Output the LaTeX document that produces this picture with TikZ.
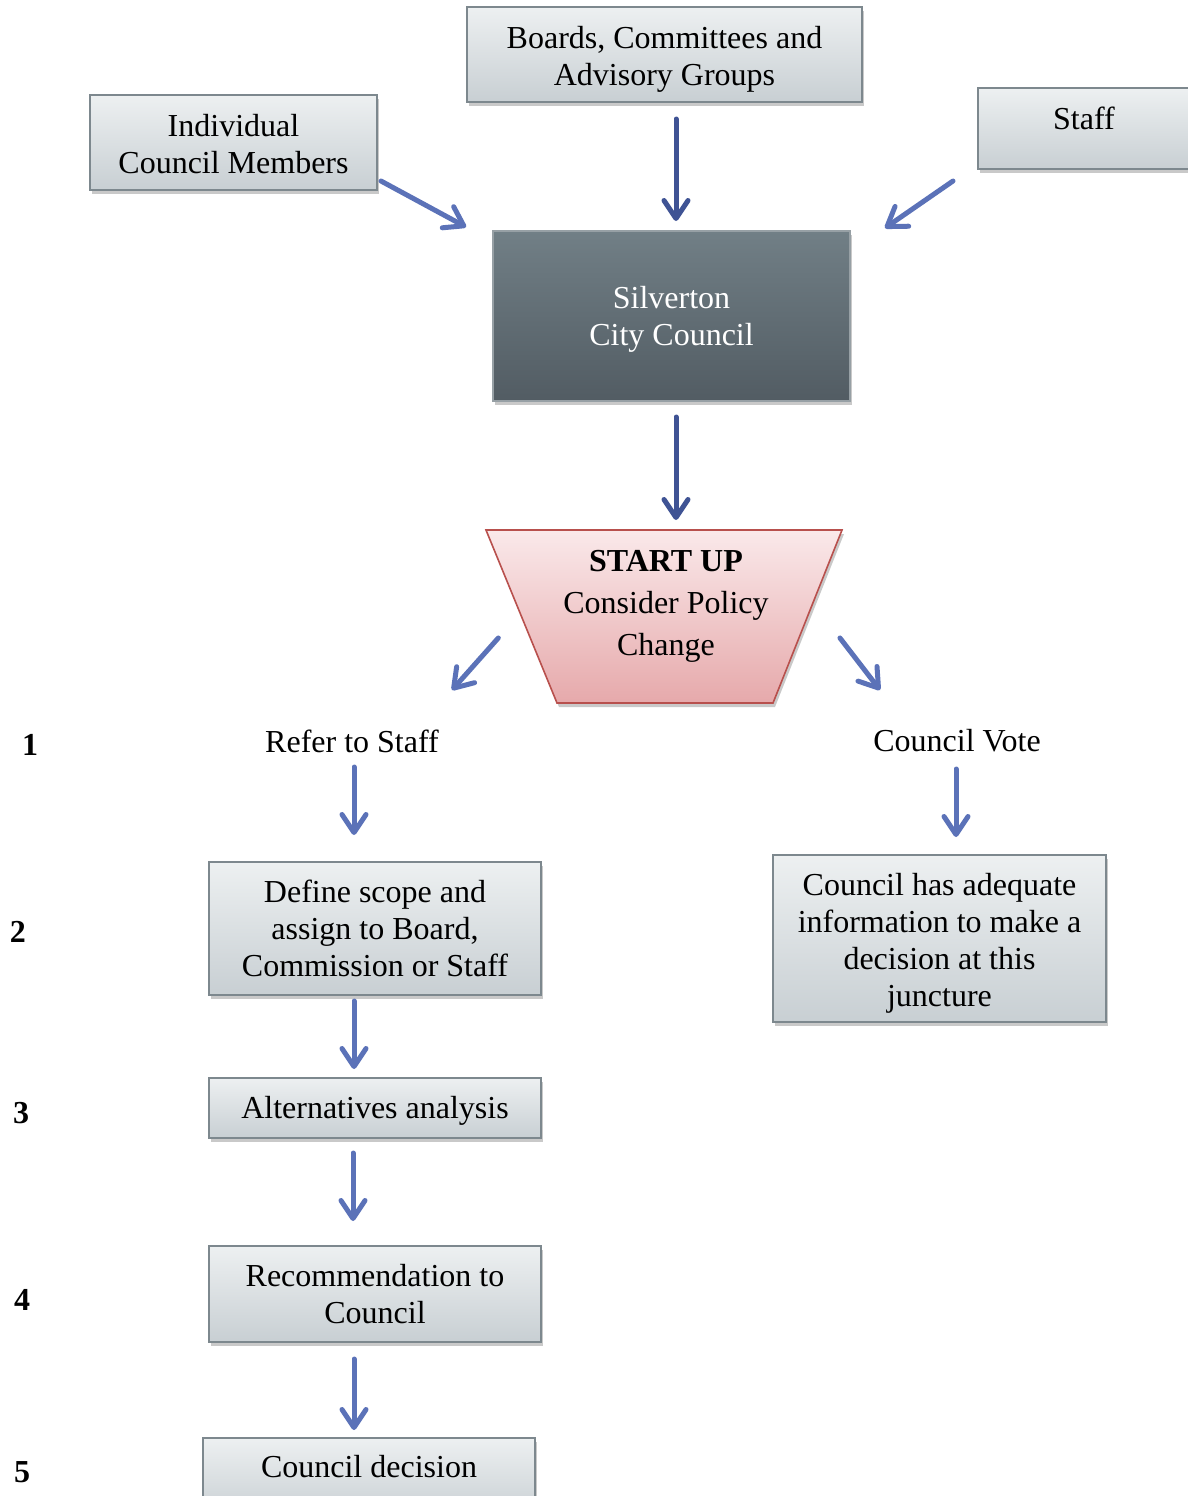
\documentclass[tikz,border=0pt]{standalone}
\usepackage{fontspec}
\setmainfont{Liberation Serif}
\usetikzlibrary{arrows.meta,shadows,calc}
\definecolor{boxtop}{HTML}{EDF0F1}
\definecolor{boxbot}{HTML}{C8CFD3}
\definecolor{boxline}{HTML}{7D888E}
\definecolor{darktop}{HTML}{717F86}
\definecolor{darkbot}{HTML}{525C63}
\definecolor{pinktop}{HTML}{FAE9EA}
\definecolor{pinkbot}{HTML}{E6A9AB}
\definecolor{pinkline}{HTML}{B8504D}
\definecolor{arrdark}{HTML}{3F5394}
\definecolor{arrlight}{HTML}{5B72B8}
\newcommand\lift[1]{\rule{0pt}{#1}}
\begin{document}
\begin{tikzpicture}[x=0.5pt,y=-0.5pt,
  txt/.style={font=\fontsize{16}{18.5}\selectfont, align=center, inner sep=0pt},
  box/.style={txt, draw=boxline, line width=1pt, top color=boxtop, bottom color=boxbot,
    drop shadow={shadow xshift=1pt,shadow yshift=-2pt,opacity=0.3,fill=black!70}},
  darkbox/.style={txt, draw=boxline!80, line width=1pt, top color=darktop, bottom color=darkbot, text=white,
    drop shadow={shadow xshift=1pt,shadow yshift=-2pt,opacity=0.3,fill=black!70}},
  arr/.style={line width=2.5pt, line cap=round, draw=arrlight, -{Straight Barb[length=9pt,width=12pt,round]}},
  darr/.style={arr, draw=arrdark},
  num/.style={font=\fontsize{16}{18}\selectfont\bfseries, inner sep=0pt}
]
\useasboundingbox (0,0) rectangle (1188,1496);

% top boxes
\node[box, minimum width=197.5pt, minimum height=47.5pt] (boards) at (664.5,54.5) {\lift{16pt}Boards, Committees and\\Advisory Groups};
\node[box, minimum width=143.5pt, minimum height=47.5pt] (icm) at (233.5,142.5) {\lift{13pt}Individual\\Council Members};
\node[box, minimum width=115pt, minimum height=40.5pt, anchor=north west] (staff) at (977,87) {};
\node[txt] (stafft) at (1084,118) {Staff};

% council
\node[darkbox, minimum width=178.5pt, minimum height=85pt] (council) at (671.5,316) {\lift{14pt}Silverton\\City Council};

% start up trapezoid
\coordinate (tl) at (486,530);
\coordinate (tr) at (842,530);
\coordinate (br) at (773,703);
\coordinate (bl) at (557,703);
\shade[top color=pinktop, bottom color=pinkbot, draw=pinkline, line width=0.8pt,
  drop shadow={shadow xshift=1pt,shadow yshift=-2pt,opacity=0.3,fill=black!70}]
  (tl) -- (tr) -- (br) -- (bl) -- cycle;
\node[txt, font=\fontsize{16}{21}\selectfont] (startup) at (666,602) {\lift{15pt}\textbf{START UP}\\Consider Policy\\Change};

% branch labels
\node[txt] (refer) at (352,741) {Refer to Staff};
\node[txt] (vote) at (957,741) {Council Vote};

% left column
\node[box, minimum width=166pt, minimum height=66.5pt] (define) at (375,928.5) {\lift{11.5pt}Define scope and\\assign to Board,\\Commission or Staff};
\node[box, minimum width=166pt, minimum height=30pt] (alt) at (375,1108) {\lift{14pt}Alternatives analysis};
\node[box, minimum width=166pt, minimum height=48pt] (rec) at (375,1294) {\lift{11.5pt}Recommendation to\\Council};
\node[box, minimum width=166pt, minimum height=40pt, anchor=north] (dec) at (369,1437) {};
\node[txt] (dect) at (369,1467) {Council decision};

% right column
\node[box, minimum width=166.5pt, minimum height=83.5pt] (adequate) at (939.5,938.5) {\lift{16pt}Council has adequate\\information to make a\\decision at this\\juncture};

% step numbers
\node[num] (n1) at (30,745) {1};
\node[num] (n2) at (18,932) {2};
\node[num] (n3) at (21,1113) {3};
\node[num] (n4) at (22,1300) {4};
\node[num] (n5) at (22,1472) {5};

% connectors
\draw[darr] ([xshift=5.75pt,yshift=-8pt]boards.south) -- ([xshift=2.25pt,yshift=4.5pt]council.north);
\draw[arr] ([xshift=1.5pt,yshift=5pt]icm.south east) -- ([xshift=-13pt,yshift=1.5pt]council.north west);
\draw[arr] ([xshift=-12pt,yshift=-5.5pt]staff.south west) -- ([xshift=17pt,yshift=1pt]council.north east);
\draw[darr] ([xshift=2.25pt,yshift=-7.5pt]council.south) -- ([xshift=6pt,yshift=5pt]$(tl)!0.5!(tr)$);
\draw[arr] ([xshift=-16pt]$(tl)!0.624!(bl)$) -- ([xshift=50pt,yshift=25.5pt]refer.center);
\draw[arr] ([xshift=20.5pt]$(tr)!0.624!(br)$) -- ([xshift=-38.5pt,yshift=25.5pt]vote.center);
\draw[arr] ([xshift=1pt,yshift=-13pt]refer.center) -- ([xshift=-10.5pt,yshift=13pt]define.north);
\draw[arr] ([xshift=-0.5pt,yshift=-14pt]vote.center) -- ([xshift=8.25pt,yshift=8.5pt]adequate.north);
\draw[arr] ([xshift=-10.5pt,yshift=-2.5pt]define.south) -- ([xshift=-10.5pt,yshift=4pt]alt.north);
\draw[arr] ([xshift=-11pt,yshift=-7pt]alt.south) -- ([xshift=-11pt,yshift=12pt]rec.north);
\draw[arr] ([xshift=-10.5pt,yshift=-8pt]rec.south) -- ([xshift=-7.5pt,yshift=3.5pt]dec.north);
\end{tikzpicture}
\end{document}
